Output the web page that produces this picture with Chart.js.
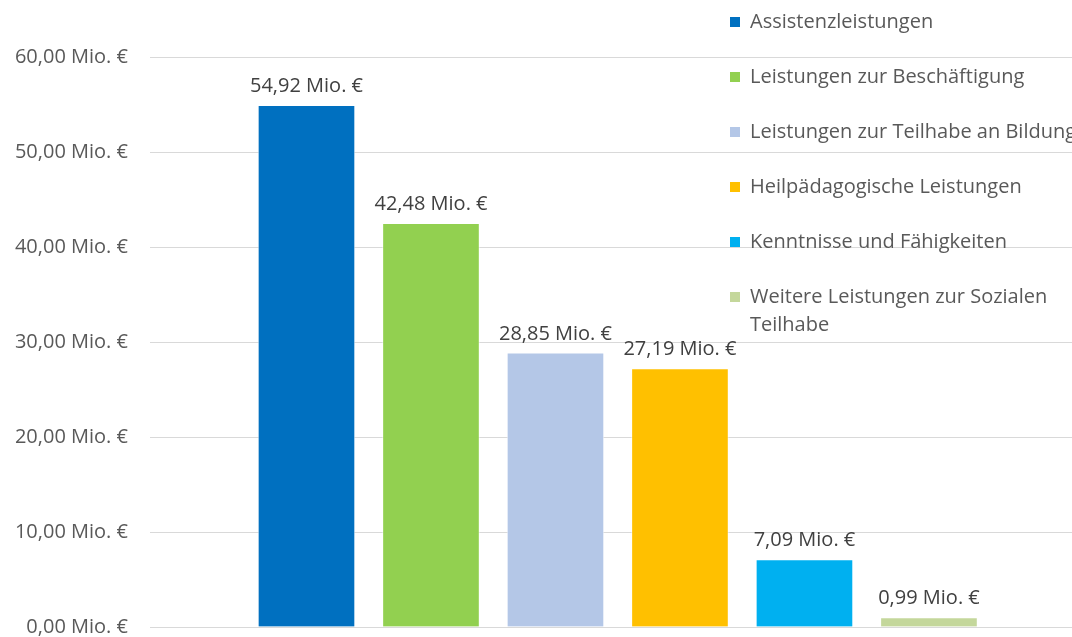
<!DOCTYPE html>
<html>
<head>
<meta charset="utf-8">
<script src="https://cdn.jsdelivr.net/npm/chart.js@4"></script>
<style>
html,body{margin:0;padding:0;background:#fff;}
#wrap{width:1072px;height:637px;position:relative;}
</style>
</head>
<body>
<div id="wrap"><canvas id="c" width="1072" height="637"></canvas></div>
<script>
const categories = ["Assistenzleistungen","Leistungen zur Beschäftigung","Leistungen zur Teilhabe an Bildung","Heilpädagogische Leistungen","Kenntnisse und Fähigkeiten","Weitere Leistungen zur Sozialen Teilhabe"];
const values = [54.92, 42.48, 28.85, 27.19, 7.09, 0.99];
const colors = ["#0070C0","#92D050","#B4C7E7","#FFC000","#00B0F0","#C4D79B"];
const yTicks = [0,10,20,30,40,50,60];

const FONT = "'Open Sans', sans-serif";
const fmt = v => v.toFixed(2).replace('.', ',') + ' Mio. €';

const labelPlugin = {
  id: 'valueLabels',
  afterDatasetsDraw(chart) {
    const ctx = chart.ctx;
    const meta = chart.getDatasetMeta(0);
    ctx.save();
    ctx.font = "20px " + FONT;
    ctx.fillStyle = "#404040";
    ctx.textAlign = "center";
    ctx.textBaseline = "middle";
    meta.data.forEach((bar, i) => {
      ctx.fillText(fmt(values[i]), bar.x, bar.y - 19);
    });
    ctx.restore();
  }
};

const legendPlugin = {
  id: 'sideLegend',
  afterDraw(chart) {
    const ctx = chart.ctx;
    ctx.save();
    ctx.font = "20px " + FONT;
    ctx.textBaseline = "middle";
    const maxW = 335;
    let y = 22;
    categories.forEach((name, i) => {
      ctx.fillStyle = colors[i];
      ctx.fillRect(730, y - 5, 10, 10);
      ctx.fillStyle = "#595959";
      const words = name.split(' ');
      const lines = [];
      let cur = '';
      words.forEach(w => {
        const t = cur ? cur + ' ' + w : w;
        if (ctx.measureText(t).width > maxW && cur) { lines.push(cur); cur = w; } else cur = t;
      });
      lines.push(cur);
      lines.forEach((ln, k) => ctx.fillText(ln, 750, y + k * 28));
      y += 55;
    });
    ctx.restore();
  }
};

new Chart(document.getElementById('c'), {
  type: 'bar',
  data: {
    datasets: [{
      data: values.map((v, i) => ({x: i, y: v})),
      backgroundColor: colors,
      borderColor: "rgba(255,255,255,0.5)",
      borderWidth: 1,
      barThickness: 97
    }]
  },
  options: {
    responsive: false,
    animation: false,
    events: [],
    layout: { padding: { top: 57, bottom: 10, left: 0, right: 0 } },
    plugins: { legend: { display: false }, tooltip: { enabled: false } },
    scales: {
      x: {
        type: 'linear',
        display: false,
        offset: false,
        min: -1.257,
        max: 6.149
      },
      y: {
        min: 0,
        max: 60,
        afterBuildTicks: s => { s.ticks = yTicks.map(v => ({value: v})); },
        afterFit: s => { s.width = 150; s.paddingTop = 0; s.paddingBottom = 0; },
        border: { display: false },
        grid: { color: "#D9D9D9", lineWidth: 1, drawTicks: false },
        ticks: {
          padding: 22,
          color: "#595959",
          font: { family: FONT, size: 20 },
          callback: v => fmt(v)
        }
      }
    }
  },
  plugins: [labelPlugin, legendPlugin]
});
</script>
</body>
</html>
